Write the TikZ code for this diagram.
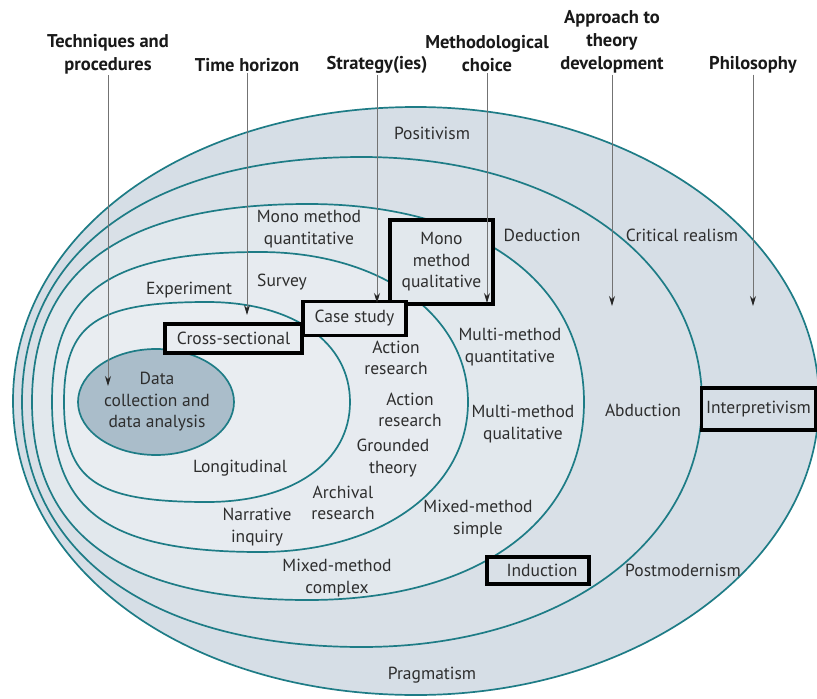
\documentclass[tikz,border=0pt]{standalone}
\usepackage{fontspec}
\setmainfont{PT Sans}
\usetikzlibrary{arrows.meta}
\definecolor{rim}{HTML}{1E7C86}
\definecolor{fA}{HTML}{D6DEE6}
\definecolor{fB}{HTML}{D9E0E7}
\definecolor{fC}{HTML}{E2E8ED}
\definecolor{fD}{HTML}{E7EBF0}
\definecolor{fE}{HTML}{E9EDF1}
\definecolor{fCore}{HTML}{AABDCA}
\definecolor{txt}{HTML}{2E2E2E}
% #1 style, #2 cx, #3 cy, #4 rx, #5 ry, #6 left handle factor, #7 right handle factor
\newcommand\onionring[7]{%
  \draw[#1] ({#2+#4},#3)
    .. controls ({#2+#4},{#3-#7*#5}) and ({#2+#7*#4},{#3-#5}) .. (#2,{#3-#5})
    .. controls ({#2-#6*#4},{#3-#5}) and ({#2-#4},{#3-#6*#5}) .. ({#2-#4},#3)
    .. controls ({#2-#4},{#3+#6*#5}) and ({#2-#6*#4},{#3+#5}) .. (#2,{#3+#5})
    .. controls ({#2+#7*#4},{#3+#5}) and ({#2+#4},{#3+#7*#5}) .. ({#2+#4},#3) -- cycle;}
\begin{document}
\begin{tikzpicture}[x=1pt,y=-1pt,
  ring/.style={draw=rim,line width=1.7pt},
  lab/.style={font=\fontsize{17.5}{21.5}\selectfont,text=txt,align=center,inner sep=1pt},
  head/.style={font=\fontsize{18.5}{23}\selectfont\bfseries,text=black!90,align=center,inner sep=1pt},
  arr/.style={draw=black!55,line width=0.9pt,-{Stealth[length=10pt,width=6pt,color=black!85]}},
  hl/.style={lab,draw=black,line width=3.6pt,inner sep=0pt}
]
\useasboundingbox (0,0) rectangle (817,699);
\fill[white] (0,0) rectangle (817,699);
% rings
\onionring{ring,fill=fA}{416}{401}{403}{294}{0.57}{0.5523}
\onionring{ring,fill=fB}{362}{402}{340}{245}{0.62}{0.58}
\onionring{ring,fill=fC}{308}{402}{276}{198}{0.67}{0.61}
\onionring{ring,fill=fD}{260}{402}{208}{150}{0.73}{0.58}
\onionring{ring,fill=fE}{207}{402}{143}{100}{0.78}{0.60}
\onionring{ring,fill=fCore}{156}{402}{78}{53}{0.5523}{0.5523}

% highlighted boxes
\node[hl,fill=fC,minimum width=103pt,minimum height=84pt] (mmql) at (441.5,262) {Mono\\method\\qualitative};
\node[hl,fill=fD,minimum width=103pt,minimum height=34pt] (cs) at (354.5,318.5) {Case study};
\node[hl,fill=fE,minimum width=137pt,minimum height=29pt] (xs) at (233.5,338.5) {Cross-sectional};
\node[hl,fill=fA,minimum width=114pt,minimum height=42pt] (interp) at (758.5,409) {Interpretivism};
\node[hl,fill=fB,minimum width=102pt,minimum height=27pt] (ind) at (538,570.5) {\hspace*{8pt}Induction};

% labels
\node[lab] (pos) at (432,133) {Positivism};
\node[lab] (crit) at (682,235) {Critical realism};
\node[lab] (post) at (683,570) {Postmodernism};
\node[lab] (prag) at (432,675) {Pragmatism};
\node[lab] (ded) at (542,235) {Deduction};
\node[lab] (abd) at (643,410) {Abduction};
\node[lab] (mmqn) at (510,347) {Multi-method\\quantitative};
\node[lab] (mmql2) at (523,424) {Multi-method\\qualitative};
\node[lab] (mxs) at (478,519) {Mixed-method\\simple};
\node[lab] (mxc) at (337,578) {Mixed-method\\complex};
\node[lab] (monoqn) at (309,229) {Mono method\\quantitative};
\node[lab] (survey) at (282,282) {Survey};
\node[lab] (exp) at (189,290) {Experiment};
\node[lab] (ar1) at (396,358) {Action\\research};
\node[lab] (ar2) at (410,410) {Action\\research};
\node[lab] (gt) at (393,458) {Grounded\\theory};
\node[lab] (arch) at (343,503) {Archival\\research};
\node[lab] (narr) at (257,527) {Narrative\\inquiry};
\node[lab] (long) at (240,468) {Longitudinal};
\node[lab] (data) at (157,402) {Data\\collection and\\data analysis};

% headers
\node[head] (tp) at (108,54) {Techniques and\\procedures};
\node[head] (th) at (247,65) {Time horizon};
\node[head] (st) at (377,65) {Strategy(ies)};
\node[head] (mc) at (487,54) {Methodological\\choice};
\node[head] (ap) at (612,42) {Approach to\\theory\\development};
\node[head] (ph) at (753,65) {Philosophy};

\coordinate (tpE) at (108,386);
\coordinate (thE) at (247,315);
\coordinate (stE) at (377,303);
\coordinate (mcE) at (487,303);
\coordinate (apE) at (612,306);
\coordinate (phE) at (753,306);

\draw[arr] (tp) -- (tpE);
\draw[arr] (th) -- (thE);
\draw[arr] (st) -- (stE);
\draw[arr] (mc) -- (mcE);
\draw[arr] (ap) -- (apE);
\draw[arr] (ph) -- (phE);
\end{tikzpicture}
\end{document}
